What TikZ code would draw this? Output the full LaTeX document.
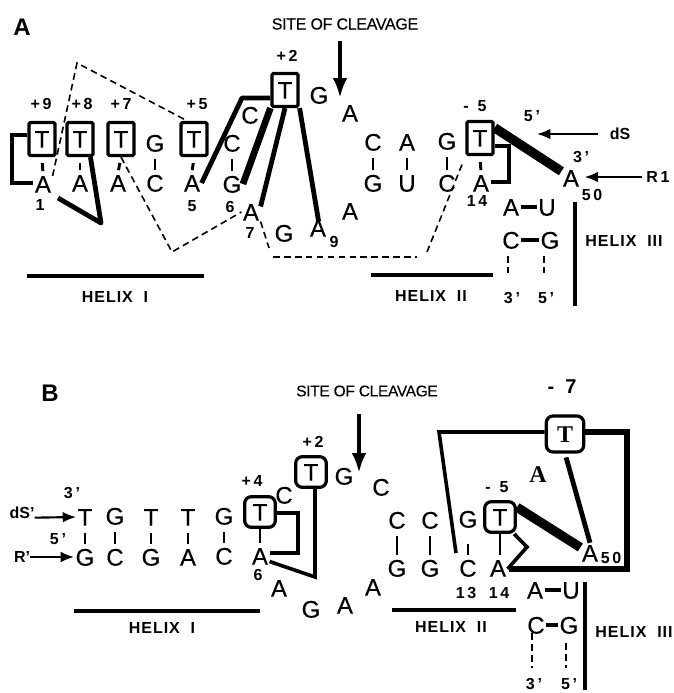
\documentclass[tikz,border=0pt]{standalone}
\usepackage{fontspec}
\setmainfont{Liberation Sans}
\newfontfamily\outlinefont{Liberation Serif}
\usetikzlibrary{arrows.meta}

\begin{document}
\begin{tikzpicture}[
  x=0.75pt, y=-0.75pt,
  base/.style={inner sep=1pt, text height=13pt, text depth=0pt, font=\fontsize{18}{18}\selectfont\addfontfeatures{FakeBold=0.4}},
  tbox/.style={base, draw, line width=2.4pt, rounded corners=1pt, minimum width=19.5pt, minimum height=24.7pt},
  tround/.style={tbox, rounded corners=5pt, minimum width=23pt, minimum height=23pt},
  troundbig/.style={tround, minimum width=28pt, minimum height=27pt, font=\outlinefont\bfseries\fontsize{18}{18}\selectfont},
  num/.style={inner sep=0pt, font=\bfseries\fontsize{12}{12}\selectfont},
  panel/.style={inner sep=0pt, font=\bfseries\fontsize{18}{18}\selectfont},
  site/.style={inner sep=0pt, font=\fontsize{12}{12}\selectfont\addfontfeatures{LetterSpace=-2,FakeBold=0.3}},
  helix/.style={inner sep=0pt, font=\bfseries\fontsize{12}{12}\addfontfeatures{LetterSpace=6}\selectfont},
  pair/.style={line width=2.2pt, shorten <=4.5pt, shorten >=2pt},
  hbond/.style={line width=2.4pt},
  unpaired/.style={line width=1.2pt, dash pattern=on 5pt off 3.2pt},
  bond/.style={line width=2.7pt},
  strong/.style={line width=3.6pt, line join=round},
  heavy/.style={line width=7pt},
  frame/.style={line width=5pt, line join=miter},
  bar/.style={line width=3pt},
  cut/.style={-{Latex[length=15pt, width=11pt]}, line width=3pt},
  feed/.style={-{Latex[length=10pt, width=8pt]}, line width=1.6pt}
]
\useasboundingbox (0,0) rectangle (674,693);
% panel A
\node[panel] (labA) at (22,27) {A};
\node[site] (siteA) at (345,24) {SITE OF CLEAVAGE};
\node[num] (pnine) at (41,104) {+\,9};
\node[num] (peight) at (82,104) {+\,8};
\node[num] (pseven) at (121,104) {+\,7};
\node[num] (pfive) at (197,104) {+\,5};
\node[num] (ptwo) at (287,56) {+\,2};
\node[num] (mfive) at (475,106) {-\ \ 5};
\node[tbox] (aTnine) at (42,139) {T};
\node[tbox] (aTeight) at (80,139) {T};
\node[tbox] (aTseven) at (121,139) {T};
\node[base] (aGfour) at (155,143) {G};
\node[tbox] (aTfive) at (194,139) {T};
\node[base] (aCsix) at (232,143) {C};
\node[base] (aCseven) at (250,115) {C};
\node[tbox] (aTtwo) at (285,90) {T};
\node[base] (aGone) at (319,95) {G};
\node[base] (aAcut) at (350,113) {A};
\node[base] (aCtop) at (373,142) {C};
\node[base] (aAtop) at (407,142) {A};
\node[base] (aGtop) at (447,141) {G};
\node[tbox] (aTm) at (480,138) {T};
\node[base] (aAone) at (43,184) {A};
\node[base] (aAtwo) at (80,183) {A};
\node[base] (aAthree) at (118,183) {A};
\node[base] (aCfour) at (155,183) {C};
\node[base] (aAfive) at (192,183) {A};
\node[base] (aGsix) at (232,184) {G};
\node[base] (aAseven) at (251,212) {A};
\node[base] (aGeight) at (284,233) {G};
\node[base] (aAnine) at (318,228) {A};
\node[base] (aGbot) at (373,183) {G};
\node[base] (aUbot) at (407,183) {U};
\node[base] (aCbot) at (447,183) {C};
\node[base] (aAfourteen) at (481,183) {A};
\node[base] (aAten) at (350,211) {A};
\node[base] (aAfifty) at (571,178) {A};
\node[base] (aAh) at (511,207) {A};
\node[base] (aUh) at (547,207) {U};
\node[base] (aCh) at (511,240) {C};
\node[base] (aGh) at (550,240) {G};
\node[num] (nOne) at (40,205) {1};
\node[num] (nFive) at (192,206) {5};
\node[num] (nSix) at (230,207) {6};
\node[num] (nSeven) at (250,233) {7};
\node[num] (nNine) at (334,242) {9};
\node[num] (nFourteen) at (477,201) {1\,4};
\node[num] (nFifty) at (592,195) {5\,0};
\node[num] (aFivep) at (532,116) {5\,'};
\node[num] (aThreep) at (581,157) {3\,'};
\node[num] (aThreeb) at (512,298) {3\,'};
\node[num] (aFiveb) at (546,298) {5\,'};
\node[num] (dS) at (620,134) {dS};
\node[num] (Rone) at (658,177) {R\,1};
\node[helix] (aHone) at (115,297) {HELIX\ \ I};
\node[helix] (aHtwo) at (431,296) {HELIX\ \ II};
\node[helix] (aHthree) at (624,241) {HELIX\ \ III};
\coordinate (aKnineA) at (12,135);
\coordinate (aKnineB) at (12,183);
\coordinate (aKeight) at (101,223);
\coordinate (aEeight) at (58,198);
\coordinate (aKtwo) at (242,98);
\coordinate (aKfourA) at (509,146);
\coordinate (aKfourB) at (509,182);
\coordinate (aDa) at (77,63);
\coordinate (aDb) at (172,252);
\coordinate (aDc) at (269,248);
\coordinate (aDd) at (273,257);
\coordinate (aDe) at (417,257);
\coordinate (aDf) at (427,252);
\coordinate (aTickA) at (508,256);
\coordinate (aTickAe) at (508,273);
\coordinate (aTickB) at (544,256);
\coordinate (aTickBe) at (544,273);
\coordinate (aCutTip) at (340,98);
\coordinate (aDsTip) at (537,134);
\coordinate (aHoneL) at (27,276);
\coordinate (aHoneR) at (204,276);
\coordinate (aHtwoL) at (371,275);
\coordinate (aHtwoR) at (493,275);
\coordinate (aHthreeT) at (575,202);
\coordinate (aHthreeB) at (575,306);
\draw[pair] (aTnine.south) -- (aAone.north);
\draw[pair] (aTeight.south) -- (aAtwo.north);
\draw[pair] (aTseven.south) -- (aAthree.north);
\draw[pair] (aGfour.south) -- (aCfour.north);
\draw[pair] (aTfive.south) -- (aAfive.north);
\draw[pair] (aCsix.south) -- (aGsix.north);
\draw[pair] (aCtop.south) -- (aGbot.north);
\draw[pair] (aAtop.south) -- (aUbot.north);
\draw[pair] (aGtop.south) -- (aCbot.north);
\draw[pair] (aTm.south) -- (aAfourteen.north);
\draw[hbond] (aAh.east) -- (aUh.west);
\draw[hbond] (aCh.east) -- (aGh.west);
\draw[unpaired] (aTickA) -- (aTickAe);
\draw[unpaired] (aTickB) -- (aTickBe);
\draw[bond] (aTnine.west |- aKnineA) -- (aKnineA) -- (aKnineB) -- (aAone.west |- aKnineB);
\draw[strong] (aTeight.300) -- (aKeight) -- (aEeight);
\draw[strong] (aAfive.east) -- (aKtwo) -- (aTtwo.west |- aKtwo);
\draw[line width=5pt] (aGsix.east) -- (aTtwo.south west);
\draw[strong] (aAseven.30) -- (aTtwo.south);
\draw[strong, shorten <=-3pt] (aAnine.north) -- (aTtwo.south east);
\draw[bond] (aTm.east |- aKfourA) -- (aKfourA) -- (aKfourB) -- (aAfourteen.east |- aKfourB);
\draw[heavy] (aTm.35) -- (aAfifty.145);
\draw[unpaired] (aAone.40) -- (aDa) -- (aTfive.110);
\draw[unpaired] (aTseven.south) -- (aDb) -- (aAseven.west);
\draw[unpaired] (aAseven.-45) -- (aDc);
\draw[unpaired] (aDd) -- (aDe);
\draw[unpaired, shorten >=5pt] (aDf) -- (aTm.south west);
\draw[cut, shorten <=8pt] (siteA.south -| aCutTip) -- (aCutTip);
\draw[feed, shorten <=9pt] (dS.west) -- (aDsTip);
\draw[feed, shorten <=3pt, shorten >=3pt] (Rone.west) -- (aAfifty.east |- Rone.west);
\draw[bar] (aHoneL) -- (aHoneR);
\draw[bar] (aHtwoL) -- (aHtwoR);
\draw[bar] (aHthreeT) -- (aHthreeB);
% panel B
\node[panel] (labB) at (50,393) {B};
\node[site, font=\fontsize{11.6}{11.6}\selectfont\addfontfeatures{LetterSpace=-2,FakeBold=0.3}] (siteB) at (367,391) {SITE OF CLEAVAGE};
\node[num] (btwo) at (313,442) {+\,2};
\node[num] (bfour) at (252,481) {+\,4};
\node[num] (bmfive) at (497,487) {-\ \ 5};
\node[panel, font=\bfseries\fontsize{15}{15}\selectfont] (bmseven) at (562,387) {-\ \ 7};
\node[num] (bThreep) at (72,493) {3\,'};
\node[num] (bFivep) at (58,539) {5\,'};
\node[num] (dSp) at (22,513) {dS'};
\node[num] (Rp) at (22,557) {R'};
\node[base] (bTa) at (85,517) {T};
\node[base] (bGb) at (115,516) {G};
\node[base] (bTc) at (151,517) {T};
\node[base] (bTd) at (188,517) {T};
\node[base] (bGe) at (224,516) {G};
\node[tround] (bTf) at (260,512) {T};
\node[base] (bCg) at (284,495) {C};
\node[tround] (bTh) at (311,472) {T};
\node[base] (bGi) at (344,476) {G};
\node[base] (bCj) at (381,487) {C};
\node[base] (bGa) at (85,557) {G};
\node[base] (bCb) at (115,557) {C};
\node[base] (bGc) at (151,557) {G};
\node[base] (bAd) at (188,557) {A};
\node[base] (bCe) at (224,556) {C};
\node[base] (bAf) at (260,556) {A};
\node[base] (bAg) at (279,588) {A};
\node[base] (bGh) at (311,609) {G};
\node[base] (bAi) at (345,605) {A};
\node[base] (bAj) at (373,587) {A};
\node[base] (bCk) at (397,520) {C};
\node[base] (bCl) at (430,520) {C};
\node[base] (bGm) at (468,519) {G};
\node[tround] (bTn) at (500,517) {T};
\node[base] (bGk) at (397,568) {G};
\node[base] (bGl) at (430,568) {G};
\node[base] (bCm) at (468,568) {C};
\node[base] (bAn) at (498,568) {A};
\node[troundbig] (bTq) at (565,434) {T};
\node[base, font=\outlinefont\bfseries\fontsize{18}{18}\selectfont] (bAq) at (538,474) {A};
\node[base] (bAfifty) at (590,553) {A};
\node[base] (bAh) at (535,590) {A};
\node[base] (bUh) at (571,590) {U};
\node[base] (bCh) at (536,625) {C};
\node[base] (bGp) at (569,625) {G};
\node[num] (bnSix) at (258,575) {6};
\node[num] (bnThirteen) at (466,593) {1\,3};
\node[num] (bnFourteen) at (499,593) {1\,4};
\node[num] (bnFifty) at (611,558) {5\,0};
\node[num] (bThreeb) at (534,684) {3\,'};
\node[num] (bFiveb) at (569,684) {5\,'};
\node[helix] (bHone) at (162,628) {HELIX\ \ I};
\node[helix] (bHtwo) at (451,627) {HELIX\ \ II};
\node[helix] (bHthree) at (634,632) {HELIX\ \ III};
\coordinate (bKfourA) at (298,513);
\coordinate (bKfourB) at (298,553);
\coordinate (bKtwo) at (315,577);
\coordinate (bKkink) at (527,547);
\coordinate (bKleft) at (439,432);
\coordinate (bKrightA) at (627,432);
\coordinate (bKrightB) at (627,569);
\coordinate (bEright) at (509,569);
\coordinate (bEleft) at (456,553);
\coordinate (bTickA) at (532,633);
\coordinate (bTickAe) at (532,668);
\coordinate (bTickB) at (566,643);
\coordinate (bTickBe) at (566,668);
\coordinate (bCutTip) at (359,473);
\coordinate (bHoneL) at (74,611);
\coordinate (bHoneR) at (260,611);
\coordinate (bHtwoL) at (392,610);
\coordinate (bHtwoR) at (516,610);
\coordinate (bHthreeT) at (585,582);
\coordinate (bHthreeB) at (585,690);
\draw[pair] (bTa.south) -- (bGa.north);
\draw[pair] (bGb.south) -- (bCb.north);
\draw[pair] (bTc.south) -- (bGc.north);
\draw[pair] (bTd.south) -- (bAd.north);
\draw[pair] (bGe.south) -- (bCe.north);
\draw[pair, shorten <=0pt] (bTf.south) -- (bAf.north);
\draw[pair] (bCk.south) -- (bGk.north);
\draw[pair] (bCl.south) -- (bGl.north);
\draw[pair, shorten <=11pt] (bGm.south) -- (bCm.north);
\draw[pair, shorten <=0pt] (bTn.south) -- (bTn.south |- bAn.north);
\draw[hbond] (bAh.east) -- (bUh.west);
\draw[hbond] (bCh.east) -- (bGp.west);
\draw[unpaired] (bTickA) -- (bTickAe);
\draw[unpaired] (bTickB) -- (bTickBe);
\draw[bond] (bTf.east |- bKfourA) -- (bKfourA) -- (bKfourB) -- (bAf.east |- bKfourB);
\draw[bond] (bAf.-30) -- (bKtwo) -- (bTh.south -| bKtwo);
\draw[heavy] (bTn.30) -- (bAfifty.150);
\draw[bond] (bTn.-50) -- (bKkink) -- (bAn.-5);
\draw[strong, shorten <=3pt] (bTq.south) -- (bAfifty.north);
\draw[bond] (bTq.west |- bKleft) -- (bKleft) -- (bEleft);
\draw[frame] (bTq.east |- bKrightA) -- (bKrightA) -- (bKrightB) -- (bEright);
\draw[cut, shorten <=13pt] (siteB.south -| bCutTip) -- (bCutTip);
\draw[feed] ([yshift=-3.5pt]dSp.east) -- (bTa.west);
\draw[feed] (Rp.east) -- (bGa.west);
\draw[bar] (bHoneL) -- (bHoneR);
\draw[bar] (bHtwoL) -- (bHtwoR);
\draw[bar] (bHthreeT) -- (bHthreeB);
\end{tikzpicture}
\end{document}
